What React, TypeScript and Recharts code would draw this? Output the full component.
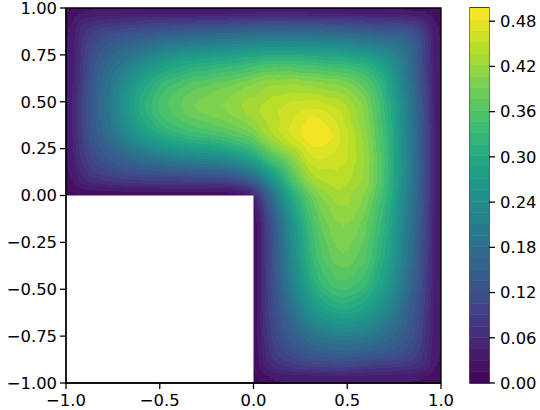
import { BarChart, Bar, ReferenceArea, Scatter, ScatterChart, XAxis, YAxis } from 'recharts';

// cell centres
const leftX = [-0.975, -0.925, -0.875, -0.825, -0.775, -0.725, -0.675, -0.625, -0.575, -0.525, -0.475, -0.425, -0.375, -0.325, -0.275, -0.225, -0.175, -0.125, -0.075, -0.025];
const rightX = [0.025, 0.075, 0.125, 0.175, 0.225, 0.275, 0.325, 0.375, 0.425, 0.475, 0.525, 0.575, 0.625, 0.675, 0.725, 0.775, 0.825, 0.875, 0.925, 0.975];
const upperY = [0.975, 0.925, 0.875, 0.825, 0.775, 0.725, 0.675, 0.625, 0.575, 0.525, 0.475, 0.425, 0.375, 0.325, 0.275, 0.225, 0.175, 0.125, 0.075, 0.025];
const lowerY = [-0.025, -0.075, -0.125, -0.175, -0.225, -0.275, -0.325, -0.375, -0.425, -0.475, -0.525, -0.575, -0.625, -0.675, -0.725, -0.775, -0.825, -0.875, -0.925, -0.975];

// values, in thousandths
const topLeft = [
  [20, 26, 29, 31, 32, 33, 34, 34, 35, 35, 35, 35, 35, 36, 36, 36, 37, 37, 38, 39],
  [26, 52, 60, 66, 70, 72, 74, 78, 82, 85, 87, 89, 91, 92, 94, 95, 96, 97, 99, 103],
  [29, 60, 85, 100, 108, 114, 118, 122, 126, 129, 136, 141, 145, 148, 150, 153, 155, 157, 160, 163],
  [31, 66, 100, 118, 132, 143, 150, 156, 162, 170, 179, 186, 191, 195, 198, 201, 204, 207, 210, 215],
  [32, 70, 108, 132, 148, 163, 175, 187, 198, 211, 222, 230, 237, 242, 246, 249, 253, 257, 260, 266],
  [33, 72, 114, 143, 163, 178, 198, 216, 234, 248, 261, 271, 279, 285, 289, 293, 298, 302, 307, 314],
  [33, 74, 118, 150, 175, 198, 217, 242, 262, 279, 294, 304, 313, 320, 325, 330, 335, 339, 344, 353],
  [35, 76, 122, 156, 185, 212, 239, 266, 288, 306, 322, 334, 344, 351, 356, 362, 367, 373, 378, 387],
  [36, 80, 126, 162, 191, 222, 254, 283, 307, 326, 344, 356, 367, 374, 380, 386, 392, 397, 403, 413],
  [36, 84, 129, 165, 195, 228, 262, 292, 317, 337, 354, 367, 378, 386, 392, 398, 404, 410, 416, 426],
  [36, 88, 130, 165, 195, 230, 265, 295, 320, 340, 358, 371, 382, 390, 396, 402, 408, 414, 420, 430],
  [36, 88, 130, 165, 194, 228, 261, 291, 315, 335, 353, 365, 376, 384, 390, 396, 402, 408, 415, 425],
  [36, 86, 128, 160, 188, 218, 249, 277, 301, 320, 337, 349, 359, 367, 373, 379, 385, 392, 398, 410],
  [35, 84, 124, 152, 177, 204, 231, 257, 278, 296, 311, 323, 332, 339, 345, 350, 357, 364, 372, 385],
  [34, 80, 117, 142, 162, 184, 208, 227, 246, 262, 276, 286, 294, 300, 305, 310, 316, 327, 340, 350],
  [33, 76, 108, 128, 146, 162, 176, 192, 208, 221, 233, 241, 248, 254, 258, 263, 268, 280, 295, 310],
  [31, 70, 97, 115, 128, 140, 150, 160, 170, 178, 186, 193, 199, 203, 206, 209, 214, 225, 240, 260],
  [29, 60, 83, 97, 106, 113, 120, 126, 131, 135, 139, 142, 145, 148, 150, 152, 156, 165, 180, 200],
  [25, 48, 62, 70, 76, 80, 84, 87, 89, 90, 91, 92, 93, 94, 94, 95, 97, 104, 115, 140],
  [15, 25, 28, 30, 31, 32, 33, 33, 34, 34, 34, 34, 34, 34, 34, 34, 34, 36, 45, 60],
];

const topRight = [
  [40, 40, 40, 40, 40, 40, 39, 39, 38, 37, 36, 35, 34, 33, 32, 31, 30, 28, 28, 20],
  [105, 105, 105, 105, 104, 104, 103, 103, 101, 100, 97, 94, 92, 90, 88, 86, 82, 78, 55, 28],
  [165, 166, 167, 167, 166, 166, 165, 164, 162, 160, 156, 152, 148, 143, 140, 137, 132, 115, 78, 30],
  [220, 222, 223, 223, 222, 221, 219, 218, 216, 213, 208, 203, 198, 192, 186, 182, 160, 132, 82, 31],
  [270, 273, 275, 275, 274, 273, 271, 270, 268, 265, 258, 252, 243, 232, 222, 205, 182, 137, 86, 32],
  [320, 323, 324, 325, 323, 321, 318, 316, 313, 310, 303, 296, 285, 270, 250, 222, 186, 140, 88, 33],
  [365, 367, 368, 370, 367, 364, 360, 357, 354, 350, 345, 335, 320, 300, 270, 232, 192, 143, 90, 34],
  [400, 404, 405, 406, 406, 402, 397, 394, 390, 385, 378, 365, 345, 320, 285, 243, 198, 148, 92, 35],
  [418, 425, 430, 432, 433, 430, 425, 422, 417, 412, 402, 385, 365, 335, 296, 252, 203, 152, 94, 36],
  [428, 436, 442, 446, 448, 448, 447, 443, 438, 432, 420, 402, 378, 345, 303, 258, 208, 156, 97, 36],
  [437, 445, 450, 455, 458, 460, 460, 458, 452, 445, 432, 412, 385, 350, 310, 265, 213, 160, 100, 37],
  [437, 447, 453, 462, 470, 483, 485, 480, 468, 452, 438, 417, 390, 354, 313, 268, 216, 162, 101, 38],
  [425, 440, 452, 463, 478, 488, 495, 490, 480, 458, 443, 422, 394, 357, 316, 270, 218, 164, 103, 39],
  [405, 428, 448, 463, 476, 491, 497, 495, 485, 460, 447, 425, 397, 360, 318, 271, 219, 165, 103, 39],
  [375, 400, 425, 445, 462, 478, 491, 488, 483, 460, 448, 430, 402, 364, 321, 273, 221, 166, 104, 40],
  [335, 365, 390, 412, 430, 462, 476, 478, 470, 458, 448, 433, 406, 367, 323, 274, 222, 166, 104, 40],
  [285, 325, 350, 375, 412, 445, 463, 463, 462, 455, 446, 432, 406, 370, 325, 275, 223, 167, 105, 40],
  [235, 275, 310, 350, 390, 425, 448, 452, 453, 450, 442, 430, 405, 368, 324, 275, 223, 167, 105, 40],
  [170, 220, 275, 325, 365, 400, 428, 440, 447, 445, 436, 425, 404, 367, 323, 273, 222, 166, 105, 40],
  [110, 170, 235, 285, 335, 375, 405, 425, 437, 437, 428, 418, 400, 365, 320, 270, 220, 165, 105, 40],
];

const bottomRight = [
  [60, 140, 200, 260, 310, 350, 385, 410, 425, 430, 426, 413, 387, 353, 314, 266, 215, 163, 103, 39],
  [45, 115, 180, 240, 295, 340, 372, 398, 415, 420, 416, 403, 378, 344, 307, 260, 210, 160, 99, 38],
  [36, 104, 165, 225, 280, 327, 364, 392, 408, 414, 410, 397, 373, 339, 302, 257, 207, 157, 97, 37],
  [34, 97, 156, 214, 268, 316, 357, 385, 402, 408, 404, 392, 367, 335, 298, 253, 204, 155, 96, 37],
  [34, 95, 152, 209, 263, 310, 350, 379, 396, 402, 398, 386, 362, 330, 293, 249, 201, 153, 95, 36],
  [34, 94, 150, 206, 258, 305, 345, 373, 390, 396, 392, 380, 356, 325, 289, 246, 198, 150, 94, 36],
  [34, 94, 148, 203, 254, 300, 339, 367, 384, 390, 386, 374, 351, 320, 285, 242, 195, 148, 92, 36],
  [34, 93, 145, 199, 248, 294, 332, 359, 376, 382, 378, 367, 344, 313, 279, 237, 191, 145, 91, 35],
  [34, 92, 142, 193, 241, 286, 323, 349, 365, 371, 367, 356, 334, 304, 271, 230, 186, 141, 89, 35],
  [34, 91, 139, 186, 233, 276, 311, 337, 353, 358, 354, 344, 322, 294, 261, 222, 179, 136, 87, 35],
  [34, 90, 135, 178, 221, 262, 296, 320, 335, 340, 337, 326, 306, 279, 248, 211, 170, 129, 85, 35],
  [34, 89, 131, 170, 208, 246, 278, 301, 315, 320, 317, 307, 288, 262, 234, 198, 162, 126, 82, 35],
  [33, 87, 126, 160, 192, 227, 257, 277, 291, 295, 292, 283, 266, 242, 216, 187, 156, 122, 78, 34],
  [33, 84, 120, 150, 176, 208, 231, 249, 261, 265, 262, 254, 239, 217, 198, 175, 150, 118, 74, 34],
  [32, 80, 113, 140, 162, 184, 204, 218, 228, 230, 228, 222, 212, 198, 178, 163, 143, 114, 72, 33],
  [31, 76, 106, 128, 146, 162, 177, 188, 194, 195, 195, 191, 185, 175, 163, 148, 132, 108, 70, 32],
  [30, 70, 97, 115, 128, 142, 152, 160, 165, 165, 165, 162, 156, 150, 143, 132, 118, 100, 66, 31],
  [28, 62, 83, 97, 108, 117, 124, 128, 130, 130, 129, 126, 122, 118, 114, 108, 100, 85, 60, 29],
  [25, 48, 60, 70, 76, 80, 84, 86, 88, 88, 84, 80, 76, 74, 72, 70, 66, 60, 52, 26],
  [15, 25, 29, 31, 33, 34, 35, 36, 36, 36, 36, 36, 35, 33, 33, 32, 31, 29, 26, 20],
];

const xTicks = [-1, -0.5, 0, 0.5, 1];
const yTicks = [-1, -0.75, -0.5, -0.25, 0, 0.25, 0.5, 0.75, 1];
const barTicks = [0, 0.06, 0.12, 0.18, 0.24, 0.3, 0.36, 0.42, 0.48];
const viridisStops = ['#440154', '#482475', '#414487', '#355f8d', '#2a788e', '#21918c', '#22a884', '#44bf70', '#7ad151', '#bddf26', '#fde725'];

const MAX_VALUE = 497.5;
const BANDS = 33;
const FONT = '"DejaVu Sans", sans-serif';
const PLOT = { left: 66, top: 8, size: 375 };
const CELL = PLOT.size / 40;

function channel(hex: string, i: number) {
  return parseInt(hex.slice(1 + i * 2, 3 + i * 2), 16);
}

function viridis(t: number) {
  const pos = Math.min(t, 0.9999) * 10;
  const k = Math.floor(pos);
  return [0, 1, 2].map((i) => channel(viridisStops[k], i) + (channel(viridisStops[k + 1], i) - channel(viridisStops[k], i)) * (pos - k));
}

const bandRgb = Array.from({ length: BANDS }, (_, i) => viridis((i + 0.5) / BANDS));
const bandHex = bandRgb.map((c) => `rgb(${c.map(Math.round).join(',')})`);
const tableFor = (i: number) => bandRgb.map((c) => (c[i] / 255).toFixed(4)).join(' ');

type Cell = { x: number; y: number; v: number };

function toCells(xs: number[], ys: number[], grid: number[][]): Cell[] {
  return grid.flatMap((row, r) => row.map((v, c) => ({ x: xs[c], y: ys[r], v })));
}

const cells = [
  ...toCells(leftX, upperY, topLeft),
  ...toCells(rightX, upperY, topRight),
  ...toCells(rightX, lowerY, bottomRight),
];

// one stacked piece per colour band of the colorbar
const barRow = [{ name: 'levels', ...Object.fromEntries(bandHex.map((_, i) => [`band${i}`, MAX_VALUE / 1000 / BANDS])) }];

const minus = (s: string) => s.replace('-', '\u2212');

function CellShape(props: any) {
  const g = Math.round((255 * props.payload.v) / MAX_VALUE);
  return (
    <rect
      x={props.cx - CELL / 2 - 0.25}
      y={props.cy - CELL / 2 - 0.25}
      width={CELL + 0.5}
      height={CELL + 0.5}
      fill={`rgb(${g},${g},${g})`}
    />
  );
}

const tickStyle = { fill: '#000', fontSize: 16.4, fontFamily: FONT };
const axisLine = { stroke: '#000', strokeWidth: 1.3 };
const layer = { position: 'absolute', left: 0, top: 0 } as const;
const srgb = 'sRGB';

export default function App() {
  return (
    <div style={{ position: 'absolute', left: 0, top: 0, width: 540, height: 410, background: '#fff' }}>
      <style>{`.field .recharts-scatter { filter: url(#contour); }`}</style>
      {/* blurs the grey cells, then turns grey levels into the colour bands */}
      <svg width={0} height={0} style={{ position: 'absolute' }}>
        <filter
          id="contour"
          filterUnits="userSpaceOnUse"
          x={PLOT.left}
          y={PLOT.top}
          width={PLOT.size}
          height={PLOT.size}
          colorInterpolationFilters={srgb}
        >
          <feFlood floodColor="#000" result="floor" colorInterpolationFilters={srgb} />
          <feMerge result="field" colorInterpolationFilters={srgb}>
            <feMergeNode in="floor" />
            <feMergeNode in="SourceGraphic" />
          </feMerge>
          <feGaussianBlur in="field" stdDeviation={3.5} colorInterpolationFilters={srgb} />
          <feComponentTransfer colorInterpolationFilters={srgb}>
            <feFuncR type="discrete" tableValues={tableFor(0)} />
            <feFuncG type="discrete" tableValues={tableFor(1)} />
            <feFuncB type="discrete" tableValues={tableFor(2)} />
            <feFuncA type="discrete" tableValues="1" />
          </feComponentTransfer>
        </filter>
      </svg>

      {/* field layer */}
      <div className="field">
        <ScatterChart width={540} height={410} margin={{ top: PLOT.top, right: 99, bottom: 27, left: PLOT.left }} style={layer}>
          <XAxis type="number" dataKey="x" domain={[-1, 1]} hide />
          <YAxis type="number" dataKey="y" domain={[-1, 1]} hide />
          <Scatter data={cells} shape={CellShape} isAnimationActive={false} />
        </ScatterChart>
      </div>

      {/* axes, frame and the cut-out on top */}
      <ScatterChart width={540} height={410} margin={{ top: PLOT.top, right: 99, bottom: 0, left: 0 }} style={layer}>
        <XAxis
          type="number"
          dataKey="x"
          domain={[-1, 1]}
          ticks={xTicks}
          height={27}
          tickSize={6}
          tickMargin={5}
          interval={0}
          tick={tickStyle}
          axisLine={axisLine}
          tickLine={axisLine}
          tickFormatter={(v: number) => minus(v.toFixed(1))}
        />
        <YAxis
          type="number"
          dataKey="y"
          domain={[-1, 1]}
          ticks={yTicks}
          width={66}
          tickSize={6}
          tickMargin={3}
          interval={0}
          tick={tickStyle}
          axisLine={axisLine}
          tickLine={axisLine}
          tickFormatter={(v: number) => minus(v.toFixed(2))}
        />
        <Scatter data={cells} shape={() => null} isAnimationActive={false} />
        <ReferenceArea x1={-1} x2={0} y1={-1} y2={0} fill="#fff" fillOpacity={1} stroke="none" />
        <ReferenceArea x1={-1} x2={1} y1={-1} y2={1} fill="none" stroke="#000" strokeWidth={1.3} />
      </ScatterChart>

      <BarChart
        width={540}
        height={410}
        data={barRow}
        barCategoryGap="0%"
        margin={{ top: PLOT.top, right: 0, bottom: 27, left: 470 }}
        style={layer}
      >
        <XAxis dataKey="name" type="category" hide />
        <YAxis
          orientation="right"
          type="number"
          domain={[0, MAX_VALUE / 1000]}
          allowDataOverflow
          ticks={barTicks}
          width={51}
          tickSize={6}
          tickMargin={5}
          interval={0}
          tick={{ ...tickStyle, textAnchor: 'start' }}
          axisLine={false}
          tickLine={axisLine}
          tickFormatter={(v: number) => v.toFixed(2)}
        />
        {bandHex.map((color, i) => (
          <Bar key={i} dataKey={`band${i}`} stackId="levels" fill={color} stroke={color} strokeWidth={0.6} isAnimationActive={false} />
        ))}
        <ReferenceArea y1={0} y2={MAX_VALUE / 1000} fill="none" stroke="#000" strokeWidth={1.3} />
      </BarChart>
    </div>
  );
}
